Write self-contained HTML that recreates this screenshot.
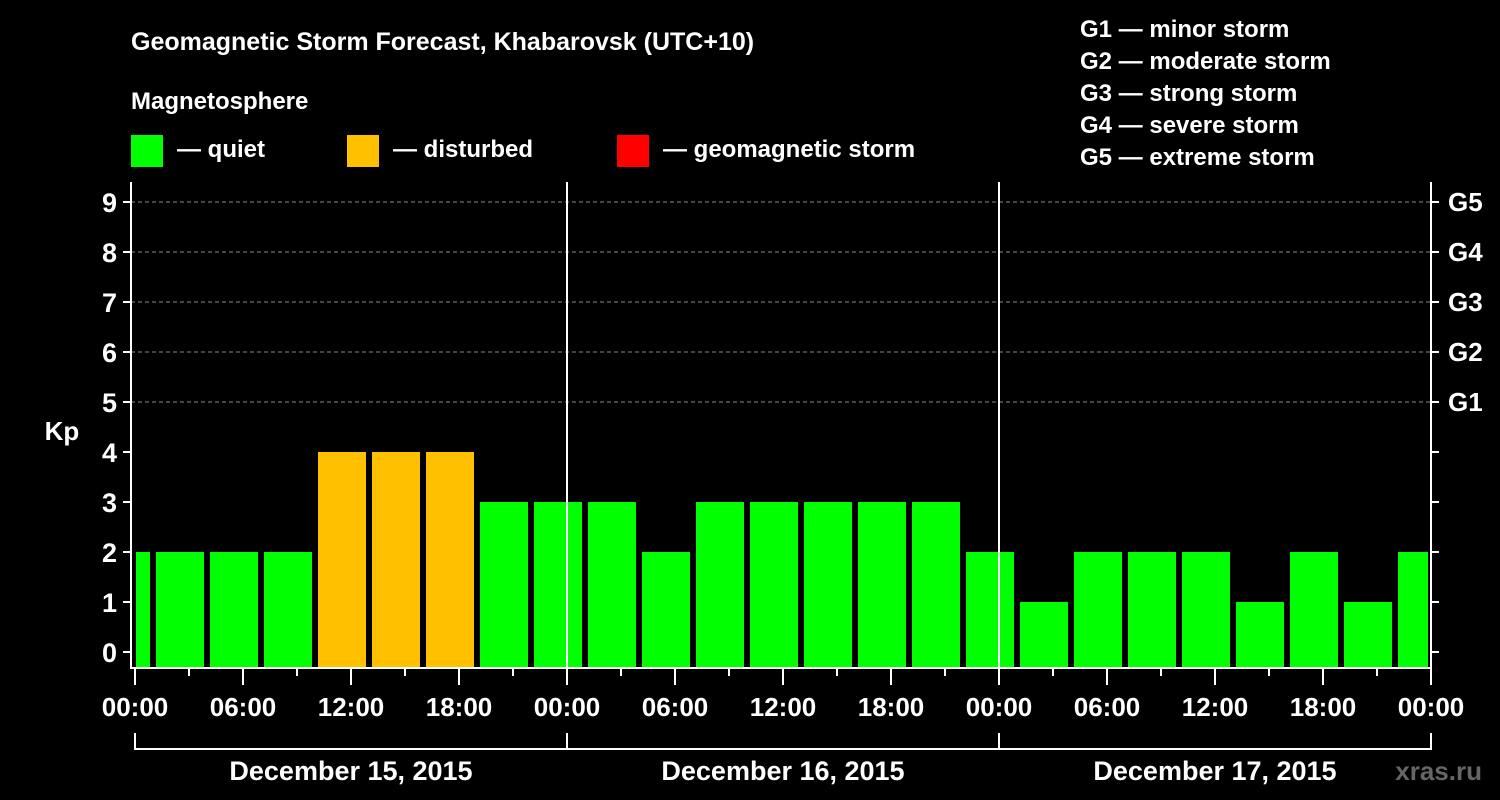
<!DOCTYPE html>
<html><head><meta charset="utf-8"><style>
html,body{margin:0;padding:0;background:#000;}
svg{display:block;font-family:"Liberation Sans",Arial,sans-serif;font-weight:bold;}
</style></head><body>
<svg id="chart" width="1500" height="800" viewBox="0 0 1500 800" xmlns="http://www.w3.org/2000/svg">
<rect width="1500" height="800" fill="#000"/>
<text x="131" y="50" fill="#fff" font-size="25">Geomagnetic Storm Forecast, Khabarovsk (UTC+10)</text>
<text x="131" y="109" fill="#fff" font-size="24">Magnetosphere</text>
<rect x="131" y="135" width="32" height="32" fill="#00ff00"/>
<text x="177" y="157" fill="#fff" font-size="24">— quiet</text>
<rect x="347" y="135" width="32" height="32" fill="#ffc000"/>
<text x="393" y="157" fill="#fff" font-size="24">— disturbed</text>
<rect x="617" y="135" width="32" height="32" fill="#ff0000"/>
<text x="663" y="157" fill="#fff" font-size="24">— geomagnetic storm</text>
<g fill="#fff" font-size="24">
<text x="1080" y="37">G1 — minor storm</text>
<text x="1080" y="69">G2 — moderate storm</text>
<text x="1080" y="101">G3 — strong storm</text>
<text x="1080" y="133">G4 — severe storm</text>
<text x="1080" y="165">G5 — extreme storm</text>
</g>
<text x="62" y="440" fill="#fff" font-size="26" text-anchor="middle">Kp</text>
<g id="grid"></g><g id="bars"></g><g id="axes"></g>
<text x="1482" y="780" fill="#666" font-size="26" text-anchor="end">xras.ru</text>
</svg>
<script>
const kpValues=[2,2,2,2,4,4,4,3,3,3,2,3,3,3,3,3,2,1,2,2,2,1,2,1,2];
const startHour=-2;
const stepHours=3;
const yTicks=[0,1,2,3,4,5,6,7,8,9];
const gLabels=["G1","G2","G3","G4","G5"];
const gLevels=[5,6,7,8,9];
const xTickLabels=["00:00","06:00","12:00","18:00","00:00","06:00","12:00","18:00","00:00","06:00","12:00","18:00","00:00"];
const dayLabels=["December 15, 2015","December 16, 2015","December 17, 2015"];

const NS="http://www.w3.org/2000/svg";
const L=131,R=1431,T=182,B=668,X0=135,PXH=18.0;
function x(h){return X0+h*PXH;}
function y(v){return 652-v*50;}
function mk(tag,attrs,parent,txt){const e=document.createElementNS(NS,tag);for(const k in attrs)e.setAttribute(k,attrs[k]);if(txt!==undefined)e.textContent=txt;parent.appendChild(e);return e;}
const grid=document.getElementById('grid'),bars=document.getElementById('bars'),axes=document.getElementById('axes');
gLevels.forEach((v,i)=>{
 const g=mk('line',{x1:L,x2:R,y1:y(v),y2:y(v),stroke:'#888','stroke-dasharray':'4,3','stroke-width':1},grid);
 
 
 const t=mk('text',{x:1448,y:y(v)+9,fill:'#fff','font-size':26},axes,gLabels[i]);
 
 
});
kpValues.forEach((v,i)=>{
 const h0=startHour+i*stepHours;
 let x1=x(h0)+3,x2=x(h0+stepHours)-3;
 x1=Math.max(x1,136);x2=Math.min(x2,1428);
 const col=v>=5?'#ff0000':(v>=4?'#ffc000':'#00ff00');
 const r=mk('rect',{x:x1,y:y(v),width:x2-x1,height:B-y(v),fill:col},bars);
 
 
});
[1,2].forEach(d=>{
 const l=mk('line',{x1:x(24*d),x2:x(24*d),y1:T,y2:B,stroke:'#fff','stroke-width':2},axes);
 
 
});
const frame=mk('path',{d:`M${L} ${T}V${B}H${R}V${T}`,fill:'none',stroke:'#fff','stroke-width':2},axes);


yTicks.forEach(v=>{
 mk('line',{x1:L-8,x2:L,y1:y(v),y2:y(v),stroke:'#fff','stroke-width':2},axes);
 mk('line',{x1:R,x2:R+8,y1:y(v),y2:y(v),stroke:'#fff','stroke-width':2},axes);
 const t=mk('text',{x:L-14,y:y(v)+10,fill:'#fff','font-size':27,'text-anchor':'end'},axes,String(v));
 
 
});
for(let h=0;h<=72;h+=3){
 const major=h%6===0;
 mk('line',{x1:x(h),x2:x(h),y1:B,y2:B+(major?17:8),stroke:'#fff','stroke-width':2},axes);
}
xTickLabels.forEach((s,i)=>{
 const t=mk('text',{x:x(i*6),y:716,fill:'#fff','font-size':26,'text-anchor':'middle'},axes,s);
 
 
});
dayLabels.forEach((s,i)=>{
 const a=x(i*24),b=x((i+1)*24);
 const p=mk('path',{d:`M${a} 733V749H${b}V733`,fill:'none',stroke:'#fff','stroke-width':2},axes);
 
 
 const t=mk('text',{x:(a+b)/2,y:780,fill:'#fff','font-size':27,'text-anchor':'middle'},axes,s);
 
 
});
</script>
</body></html>
